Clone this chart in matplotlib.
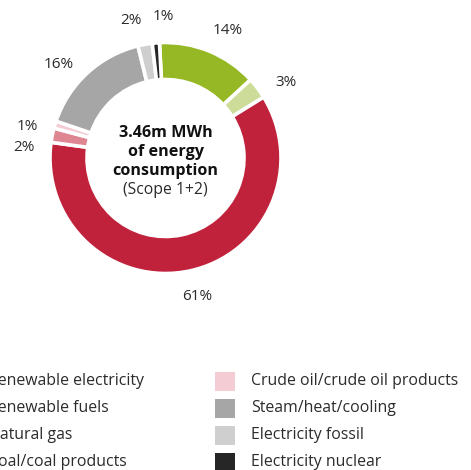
import matplotlib
matplotlib.use("Agg")
import numpy as np
from matplotlib import pyplot as plt
from matplotlib.patches import Rectangle

# energy consumption shares (Scope 1+2), in %
categories = ["Renewable electricity", "Renewable fuels", "Natural gas", "Coal/coal products",
              "Crude oil/crude oil products", "Steam/heat/cooling", "Electricity fossil",
              "Electricity nuclear"]
shares = [14, 3, 61, 2, 1, 16, 2, 1]
colors = ["#96b824", "#cddc98", "#c0223c", "#de8792", "#f3cdd3", "#a6a6a6", "#cfcfcf", "#262626"]
centre_lines = ["3.46m MWh", "of energy", "consumption"]
centre_sub = "(Scope 1+2)"

plt.rcParams['font.family'] = ['Open Sans', 'DejaVu Sans']
text_color = "#2b2b2b"

fig = plt.figure(figsize=(4.71, 4.70), dpi=100)
ax = fig.add_axes([0, 0, 1, 1])

# donut geometry in pixel coordinates
cx, cy = 165.5, 470 - 158
r_out = 115.5
ring = 37

wedges, _ = ax.pie(shares, colors=colors, startangle=93, counterclock=False,
                   center=(cx, cy), radius=r_out,
                   wedgeprops=dict(width=ring, edgecolor="white", linewidth=2.6))

# percentage labels, nudged a bit where small slices sit close together
nudge = [4, 5, -1, -7, -4, -6, -4, 4]
for w, s, dn in zip(wedges, shares, nudge):
    mid = 90 - (w.theta1 + w.theta2) / 2  # clockwise from top
    ang = np.deg2rad(mid + dn)
    x = cx + 142 * np.sin(ang)
    y = cy + 142 * np.cos(ang)
    ax.text(x, y, f"{s}%", ha="center", va="center", fontsize=11, color=text_color)

# centre caption
for k, line in enumerate(centre_lines):
    ax.text(cx, 470 - (133 + 19 * k), line, ha="center", va="center",
            fontsize=11.6, fontweight="bold", color="#111111")
ax.text(cx, 470 - 190, centre_sub, ha="center", va="center", fontsize=11.3, color=text_color)

# legend in two columns (left column runs off the canvas, as in the source)
col_x = [-48, 215]
row_y = [381, 408, 435, 462]
for i, (name, c) in enumerate(zip(categories, colors)):
    x0 = col_x[i // 4]
    y0 = 470 - row_y[i % 4]
    ax.add_patch(Rectangle((x0, y0 - 9.5), 20, 19, facecolor=c, edgecolor="none"))
    ax.text(x0 + 36, y0, name, ha="left", va="center", fontsize=11.4, color=text_color)

ax.set_xlim(0, 471)
ax.set_ylim(0, 470)
ax.set_aspect("auto")
ax.axis("off")

plt.savefig("out.png", dpi=100)
